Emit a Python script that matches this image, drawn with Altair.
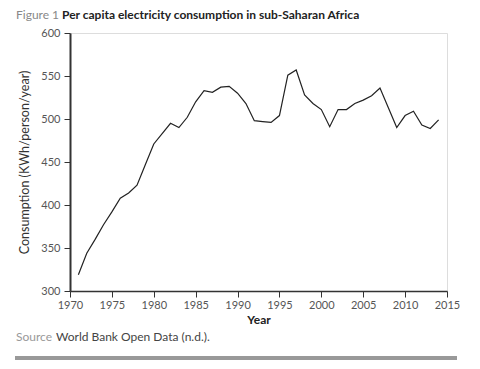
import altair as alt
import pandas as pd

years = list(range(1971, 2015))
values = [319, 344, 360, 377, 392, 408, 414, 423, 447, 471, 483, 495, 490, 502, 520,
          533, 531, 537, 538, 530, 518, 498, 497, 496, 504, 551, 557, 528, 518, 511,
          491, 511, 511, 518, 522, 527, 536, 513, 490, 504, 509, 493, 489, 499]

df = pd.DataFrame({"Year": years, "Consumption": values})
one = pd.DataFrame({"k": [0]})

FONT = "Lato"
W, H = 377, 258

line = alt.Chart(df).mark_line(color="#222222", strokeWidth=1.2).encode(
    x=alt.X("Year:Q", scale=alt.Scale(domain=[1970, 2015], nice=False, zero=False),
            axis=alt.Axis(values=list(range(1970, 2016, 5)), format="d", title="Year",
                          grid=False, domainColor="#333333", domainWidth=1.5,
                          tickColor="#333333", tickSize=6, labelColor="#555555",
                          labelFontSize=11, labelFont=FONT, titleFont=FONT,
                          titleFontSize=12, titleFontWeight="bold", titleColor="#222222",
                          labelPadding=2, titlePadding=4, labelFlush=False)),
    y=alt.Y("Consumption:Q", scale=alt.Scale(domain=[300, 600], nice=False, zero=False),
            axis=alt.Axis(values=list(range(300, 601, 50)), title="Consumption (KWh/person/year)",
                          grid=False, domainColor="#333333", domainWidth=2,
                          tickColor="#333333", tickSize=6, labelColor="#555555",
                          labelFontSize=11, labelFont=FONT, titleFont=FONT,
                          titleFontSize=12.5, titleFontWeight="normal", titleColor="#333333",
                          labelPadding=4, titlePadding=9)),
)

def txt(s, x, y, size, color, weight="normal"):
    return alt.Chart(one).mark_text(align="left", baseline="middle", font=FONT, fontSize=size,
                                    fontWeight=weight, color=color).encode(
        x=alt.value(x), y=alt.value(y), text=alt.value(s))

fig_lbl = txt("Figure 1", -54, -18, 12, "#888888")
title_txt = txt("Per capita electricity consumption in sub-Saharan Africa", -8, -18, 12,
                "#222222", "bold")
src_lbl = txt("Source", -54, 304, 12, "#999999")
src_txt = txt("World Bank Open Data (n.d.).", -14, 304, 12, "#444444")
bar = alt.Chart(one).mark_rule(color="#999999", strokeWidth=4).encode(
    x=alt.value(-55), x2=alt.value(387), y=alt.value(325))

chart = alt.layer(line, fig_lbl, title_txt, src_lbl, src_txt, bar).properties(
    width=W, height=H,
    autosize=alt.AutoSizeParams(type="none"),
    padding={"left": 62, "top": 25, "right": 25, "bottom": 70},
).configure_view(stroke=None).configure(background="white")

chart.save("out.html", embed_options={"renderer": "svg", "actions": False})
